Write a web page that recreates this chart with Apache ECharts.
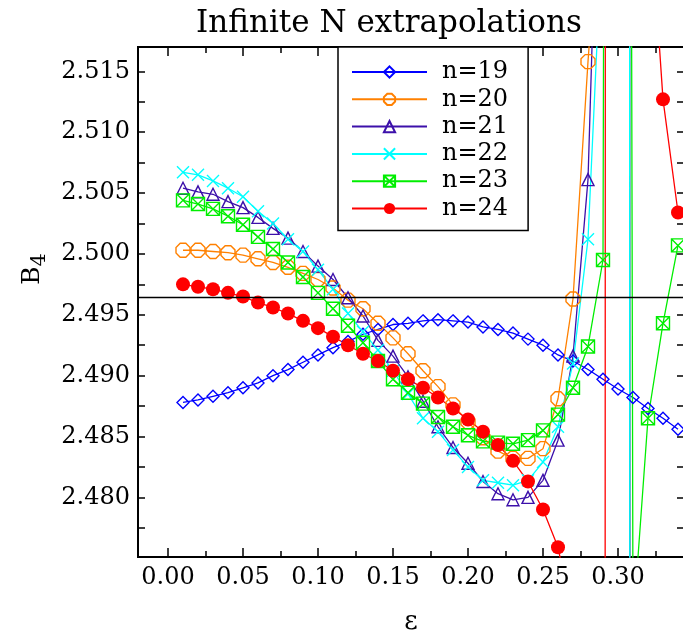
<!DOCTYPE html>
<html>
<head>
<meta charset="utf-8">
<style>
  html, body { margin: 0; padding: 0; background: #fff; }
  #chart { width: 683px; height: 635px; }
</style>
<script src="https://cdn.jsdelivr.net/npm/echarts@6/dist/echarts.min.js"></script>
</head>
<body>
<div id="chart"></div>
<script>
// epsilon values shared by every series
const epsilon = [0.01, 0.02, 0.03, 0.04, 0.05, 0.06, 0.07, 0.08, 0.09, 0.10,
  0.11, 0.12, 0.13, 0.14, 0.15, 0.16, 0.17, 0.18, 0.19, 0.20,
  0.21, 0.22, 0.23, 0.24, 0.25, 0.26, 0.27, 0.28, 0.29, 0.30,
  0.31, 0.32, 0.33, 0.34];

// B4 extrapolations (points past the frame are estimates)
const n19 = [2.4878, 2.4880, 2.4883, 2.4886, 2.4890, 2.4894, 2.4900, 2.4905, 2.4911, 2.4917,
  2.4923, 2.4928, 2.4934, 2.4938, 2.4942, 2.4943, 2.4945, 2.4946, 2.4945, 2.4944,
  2.4940, 2.4938, 2.4935, 2.4930, 2.4925, 2.4917, 2.4912, 2.4905, 2.4897, 2.4889,
  2.4882, 2.4873, 2.4865, 2.4856];
const n20 = [2.5003, 2.5003, 2.5002, 2.5001, 2.4999, 2.4996, 2.4993, 2.4989, 2.4984, 2.4979,
  2.4972, 2.4962, 2.4955, 2.4943, 2.4931, 2.4918, 2.4904, 2.4891, 2.4876, 2.4862,
  2.4849, 2.4838, 2.4832, 2.4832, 2.4840, 2.4881, 2.4963, 2.5158, 2.5330, 6.4000,
  1.4000, 2.3000, 2.3800, 2.4200];
const n21 = [2.5054, 2.5051, 2.5049, 2.5043, 2.5038, 2.5030, 2.5021, 2.5013, 2.5002, 2.4990,
  2.4979, 2.4964, 2.4949, 2.4929, 2.4916, 2.4899, 2.4879, 2.4858, 2.4841, 2.4828,
  2.4813, 2.4803, 2.4798, 2.4800, 2.4814, 2.4847, 2.4916, 2.5061, 2.5470, 6.4000,
  1.4000, 2.3000, 2.3800, 2.4200];
const n22 = [2.5067, 2.5065, 2.5060, 2.5054, 2.5047, 2.5035, 2.5025, 2.5012, 2.5002, 2.4987,
  2.4971, 2.4951, 2.4936, 2.4921, 2.4904, 2.4885, 2.4865, 2.4854, 2.4839, 2.4825,
  2.4814, 2.4812, 2.4810, 2.4814, 2.4829, 2.4858, 2.4910, 2.5012, 2.5280, 6.4000,
  1.4000, 2.3000, 2.3800, 2.4200];
const n23 = [2.5044, 2.5041, 2.5037, 2.5031, 2.5024, 2.5014, 2.5004, 2.4993, 2.4981, 2.4968,
  2.4955, 2.4941, 2.4927, 2.4912, 2.4897, 2.4886, 2.4877, 2.4866, 2.4858, 2.4851,
  2.4846, 2.4845, 2.4844, 2.4847, 2.4855, 2.4868, 2.4890, 2.4924, 2.4995, 3.0000,
  2.4694, 2.4865, 2.4943, 2.5007];
const n24 = [2.4975, 2.4973, 2.4971, 2.4968, 2.4965, 2.4960, 2.4956, 2.4951, 2.4945, 2.4939,
  2.4932, 2.4925, 2.4918, 2.4912, 2.4904, 2.4897, 2.4890, 2.4882, 2.4873, 2.4864,
  2.4854, 2.4843, 2.4830, 2.4813, 2.4790, 2.4759, 2.4699, 2.4500, 1.9000, 5.9000,
  4.0000, 2.5309, 2.5127, 2.5034];

const infiniteN = 2.4964;

const xMajor = [0.00, 0.05, 0.10, 0.15, 0.20, 0.25, 0.30];
const xMinor = [0.025, 0.075, 0.125, 0.175, 0.225, 0.275, 0.325];
const yLabels = [2.480, 2.485, 2.490, 2.495, 2.500, 2.505, 2.510, 2.515];
const yTicks = [2.4775, 2.480, 2.4825, 2.485, 2.4875, 2.490, 2.4925, 2.495, 2.4975,
  2.500, 2.5025, 2.505, 2.5075, 2.510, 2.5125, 2.515];

const FONT = "DejaVu Serif";
const X_MIN = -0.02, X_MAX = 0.344;
const Y_MIN = 2.4751, Y_MAX = 2.517;

const crossPath = "path://M0,0L10,10M10,0L0,10";
const boxCrossPath = "path://M0,0L10,0L10,10L0,10ZM0,0L10,10M10,0L0,10";
const octagonPath = "path://M3,0L7,0L10,3L10,7L7,10L3,10L0,7L0,3Z";

function tickAxis(position, values, length, extra) {
  const horizontal = position === "bottom" || position === "top";
  return Object.assign({
    type: "value",
    position: position,
    min: horizontal ? X_MIN : Y_MIN,
    max: horizontal ? X_MAX : Y_MAX,
    axisLine: { show: false, onZero: false },
    splitLine: { show: false },
    axisTick: {
      show: true,
      inside: true,
      length: length,
      customValues: values,
      lineStyle: { color: "#000", width: 1.5 },
    },
    axisLabel: { show: false },
  }, extra || {});
}

function lineSeries(name, values, color, symbol, size, filled) {
  return {
    name: name,
    type: "line",
    xAxisIndex: 0,
    yAxisIndex: 0,
    data: epsilon.map((x, i) => [x, values[i]]),
    symbol: symbol,
    symbolSize: size,
    showAllSymbol: true,
    clip: true,
    lineStyle: { color: color, width: 1.3 },
    itemStyle: {
      color: filled ? color : "rgba(255,255,255,0)",
      borderColor: color,
      borderWidth: filled ? 0 : 1.4,
    },
    emphasis: { disabled: true },
  };
}

const chart = echarts.init(document.getElementById("chart"), null, { renderer: "canvas" });

const series = [
  lineSeries("n=19", n19, "#0000ff", "diamond", 12, false),
  lineSeries("n=20", n20, "#ff8000", octagonPath, 14, false),
  lineSeries("n=21", n21, "#3c10aa", "triangle", 12, false),
  lineSeries("n=22", n22, "#00ffff", crossPath, 12, false),
  lineSeries("n=23", n23, "#00ee00", boxCrossPath, 13, false),
  lineSeries("n=24", n24, "#ff0000", "circle", 14, true),
];
series[0].markLine = {
  silent: true,
  symbol: "none",
  precision: 4,
  label: { show: false },
  lineStyle: { color: "#000", type: "solid", width: 1.3 },
  data: [{ yAxis: infiniteN }],
};

chart.setOption({
  animation: false,
  backgroundColor: "#fff",
  title: {
    text: "Infinite N extrapolations",
    left: 384,
    top: 3,
    textAlign: "center",
    textStyle: { fontFamily: FONT, fontSize: 31, fontWeight: "normal", color: "#000" },
  },
  grid: {
    left: 138,
    top: 47,
    right: -1,
    bottom: 78,
    show: true,
    borderColor: "#000",
    borderWidth: 2,
    backgroundColor: "transparent",
    outerBoundsMode: "none",
  },
  legend: {
    orient: "vertical",
    left: 338,
    top: 47,
    padding: [13, 20, 10, 13],
    itemWidth: 75,
    itemHeight: 14,
    itemGap: 3.3,
    backgroundColor: "#fff",
    borderColor: "#000",
    borderWidth: 1.5,
    borderRadius: 0,
    textStyle: { fontFamily: FONT, fontSize: 24, color: "#000", padding: [0, 0, 0, 10] },
    data: ["n=19", "n=20", "n=21", "n=22", "n=23", "n=24"],
  },
  xAxis: [
    tickAxis("bottom", xMajor, 9, {
      axisLabel: {
        show: true,
        customValues: xMajor,
        formatter: (v) => v.toFixed(2),
        fontFamily: FONT,
        fontSize: 24,
        color: "#000",
        margin: 9,
      },
      name: "ε",
      nameLocation: "middle",
      nameGap: 52,
      nameTextStyle: { fontFamily: FONT, fontSize: 26, color: "#000" },
    }),
    tickAxis("bottom", xMinor, 6),
    tickAxis("top", xMajor, 9),
    tickAxis("top", xMinor, 6),
  ],
  yAxis: [
    tickAxis("left", yTicks, 7, {
      axisLabel: {
        show: true,
        customValues: yLabels,
        formatter: (v) => v.toFixed(3),
        fontFamily: FONT,
        fontSize: 24,
        color: "#000",
        margin: 8,
      },
      name: "{b|B}{s|4}",
      nameLocation: "middle",
      nameRotate: 90,
      nameGap: 86,
      nameTextStyle: {
        padding: [0, 0, 0, 66],
        rich: {
          b: { fontFamily: FONT, fontSize: 25, color: "#000" },
          s: { fontFamily: FONT, fontSize: 21, color: "#000", padding: [14, 0, 0, 0] },
        },
      },
    }),
    tickAxis("right", yTicks, 7),
  ],
  series: series,
});
</script>
</body>
</html>
